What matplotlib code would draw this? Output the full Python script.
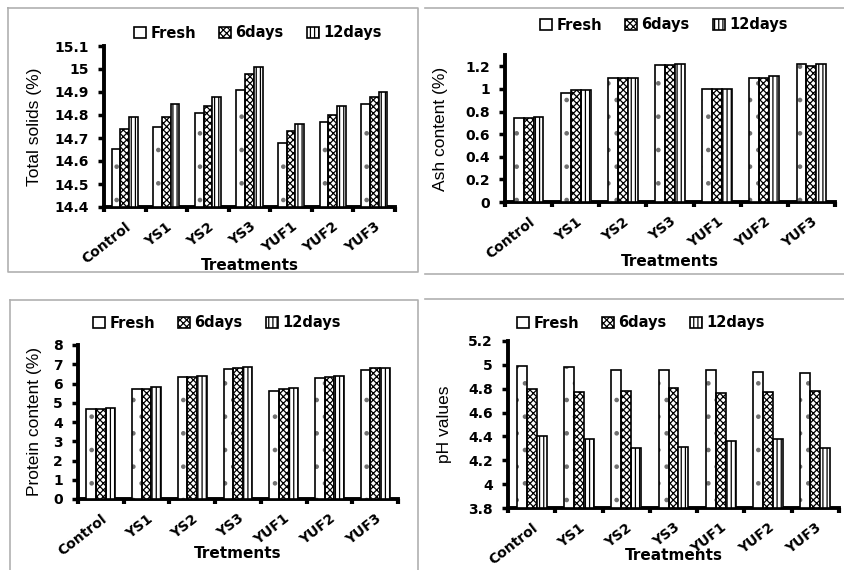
import matplotlib
matplotlib.use("Agg")
import matplotlib.pyplot as plt
from matplotlib.lines import Line2D
import numpy as np

treatments = ["Control", "YS1", "YS2", "YS3", "YUF1", "YUF2", "YUF3"]
series_names = ["Fresh", "6days", "12days"]

ts_fresh = [14.65, 14.75, 14.81, 14.91, 14.68, 14.77, 14.85]
ts_6d = [14.74, 14.79, 14.84, 14.98, 14.73, 14.80, 14.88]
ts_12d = [14.79, 14.85, 14.88, 15.01, 14.76, 14.84, 14.90]

ash_fresh = [0.74, 0.96, 1.10, 1.21, 1.00, 1.10, 1.22]
ash_6d = [0.74, 0.99, 1.10, 1.21, 1.00, 1.10, 1.20]
ash_12d = [0.75, 0.99, 1.10, 1.22, 1.00, 1.11, 1.22]

pr_fresh = [4.65, 5.70, 6.32, 6.75, 5.62, 6.27, 6.72]
pr_6d = [4.70, 5.72, 6.36, 6.80, 5.70, 6.35, 6.80]
pr_12d = [4.72, 5.80, 6.40, 6.88, 5.75, 6.40, 6.82]

ph_fresh = [4.99, 4.98, 4.96, 4.96, 4.96, 4.94, 4.93]
ph_6d = [4.80, 4.77, 4.78, 4.81, 4.76, 4.77, 4.78]
ph_12d = [4.40, 4.38, 4.30, 4.31, 4.36, 4.38, 4.30]

ts_ticks = [14.4, 14.5, 14.6, 14.7, 14.8, 14.9, 15.0, 15.1]
ts_ticklabels = ["14.4", "14.5", "14.6", "14.7", "14.8", "14.9", "15", "15.1"]
ash_ticks = [0, 0.2, 0.4, 0.6, 0.8, 1.0, 1.2]
ash_ticklabels = ["0", "0.2", "0.4", "0.6", "0.8", "1", "1.2"]
pr_ticks = [0, 1, 2, 3, 4, 5, 6, 7, 8]
pr_ticklabels = ["0", "1", "2", "3", "4", "5", "6", "7", "8"]
ph_ticks = [3.8, 4.0, 4.2, 4.4, 4.6, 4.8, 5.0, 5.2]
ph_ticklabels = ["3.8", "4", "4.2", "4.4", "4.6", "4.8", "5", "5.2"]

W, H = 844, 570
fig = plt.figure(figsize=(W / 100, H / 100), dpi=100)
plt.rcParams['hatch.linewidth'] = 0.9

hatches = [None, "xxxxx", "||||"]
narrow = ["Liberation Sans Narrow", "Liberation Sans", "DejaVu Sans"]


def px_axes(l, r, t, b):
    return fig.add_axes([l / W, (H - b) / H, (r - l) / W, (b - t) / H])


def panel(rect, data, ylim, ticks, ticklabels, ylabel, xlabel, ylab_x, xlab_y, leg_xy):
    ax = px_axes(*rect)
    x = np.arange(len(treatments))
    bw = 0.21
    handles = []
    base = ylim[0]
    for i, vals in enumerate(data):
        h = np.array(vals) - base
        if i == 0:
            ax.bar(x + (i - 1) * bw, h, bw, bottom=base, color="white",
                   edgecolor="#707070", linewidth=0, hatch=".", zorder=3)
            ax.bar(x + (i - 1) * bw, h, bw, bottom=base, fill=False,
                   edgecolor="black", linewidth=1.2, zorder=4)
            handles.append(plt.Rectangle((0, 0), 1, 1, facecolor="white",
                                         edgecolor="black", linewidth=1.2))
        else:
            bars = ax.bar(x + (i - 1) * bw, h, bw, bottom=base,
                          color="white", edgecolor="black", linewidth=1.2,
                          hatch=hatches[i], zorder=3)
            handles.append(bars)
    ax.set_xlim(-0.5, len(treatments) - 0.5)
    ax.set_ylim(*ylim)
    ax.set_yticks(ticks)
    ax.set_yticklabels(ticklabels, fontsize=10, fontweight="bold")
    ax.set_xticks(np.arange(-0.5, len(treatments), 1.0))
    ax.set_xticklabels([])
    ax.set_xticks(x, minor=True)
    ax.set_xticklabels(treatments, minor=True, rotation=38, ha="right",
                       rotation_mode="anchor", fontsize=10, fontweight="bold")
    ax.tick_params(axis="x", which="minor", length=0, pad=9)
    ax.tick_params(axis="x", which="major", direction="out", length=3.5, width=3)
    ax.tick_params(axis="y", direction="out", length=4, width=2.5, pad=7)
    for s in ["top", "right"]:
        ax.spines[s].set_visible(False)
    for s in ["left", "bottom"]:
        ax.spines[s].set_linewidth(2.8)
    fig.text(ylab_x / W, 1 - ((rect[2] + rect[3]) / 2) / H, ylabel, rotation=90,
             ha="center", va="center", fontsize=12.5, family=narrow)
    fig.text(((rect[0] + rect[1]) / 2) / W, 1 - xlab_y / H, xlabel,
             ha="center", va="center", fontsize=11, fontweight="bold")
    fig.legend(handles=handles, labels=series_names, loc="center",
               bbox_to_anchor=(leg_xy[0] / W, 1 - leg_xy[1] / H),
               ncol=3, frameon=False, handlelength=0.8, handleheight=0.8,
               handletextpad=0.3, columnspacing=1.6,
               prop={"weight": "bold", "size": 10.5})
    return ax


panel((104, 395, 46, 207), [ts_fresh, ts_6d, ts_12d], (14.4, 15.1), ts_ticks, ts_ticklabels,
      "Total solids (%)", "Treatments", 34, 266, (258, 33))
panel((505, 835, 55, 202), [ash_fresh, ash_6d, ash_12d], (0, 1.3), ash_ticks, ash_ticklabels,
      "Ash content (%)", "Treatments", 440, 262, (664, 25))
panel((78, 398, 345, 499), [pr_fresh, pr_6d, pr_12d], (0, 8), pr_ticks, pr_ticklabels,
      "Protein content (%)", "Tretments", 35, 553, (217, 323))
panel((508, 839, 341, 508), [ph_fresh, ph_6d, ph_12d], (3.8, 5.2), ph_ticks, ph_ticklabels,
      "pH values", "Treatments", 445, 555, (641, 323))

gray = "#b0b0b0"
def fline(xs, ys):
    fig.add_artist(Line2D([x / W for x in xs], [1 - y / H for y in ys], color=gray, lw=1.2))

fline([8, 418, 418, 8, 8], [8, 8, 272, 272, 8])
fline([425, 844], [8, 8])
fline([425, 844], [274, 274])
fline([10, 418, 418], [300, 300, 570])
fline([10, 10], [300, 570])
fline([425, 844], [299, 299])

fig.savefig("out.png", dpi=100)
